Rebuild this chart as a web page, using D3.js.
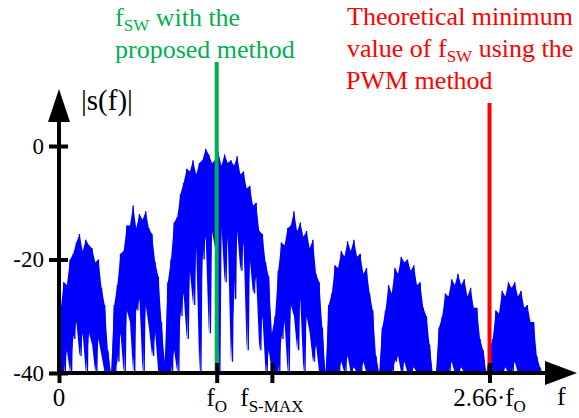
<!DOCTYPE html>
<html><head><meta charset="utf-8">
<script src="https://cdn.jsdelivr.net/npm/d3@7"></script>
<style>body{margin:0;background:#fff}svg{display:block}text{font-family:'Liberation Serif','Times New Roman',Times,serif}</style>
</head><body>
<script>
// frequency bins in units of f_O
const binStart = 0.01, binStep = 0.02;
// spectrum peaks (dB) per bin
const peakDb = [
 -29,-24,-24.5,-20,-19,-17,-15.5,-18.5,-16.5,-17.5,-18,-20.5,-20,-25,-28,-36,-40,
 -28,-24.5,-19,-18.5,-14,-14,-10.5,-14.5,-12,-13,-11.5,-14.5,-15.5,-20.5,-23,-31,-38,
 -24,-20,-13.5,-12.5,-8.5,-6.5,-4,-4.5,-2.5,-5,-3,-2.5,-0.5,-1.5,-3,-2.5,-1,-3.5,-1.5,-3,-2.5,-3.5,-1.8,-5,-4.5,-7.5,-7,-10.5,-10,-15,-15.5,-20.5,-23,-33,
 -30,-22,-17,-17.5,-14.5,-14,-11.5,-15,-13.5,-16,-15,-18,-16.5,-22.5,-24,-32,-40,
 -28,-26,-21,-21.5,-18.5,-19.5,-16.8,-18.5,-16.5,-19.5,-19,-22.5,-21.5,-26,-29,-37,-40,
 -32,-29,-24.5,-26,-21.5,-22.5,-19.5,-20.5,-20,-22,-21,-24.5,-24,-28.5,-30,-35,-40,
 -40,-32,-30,-26,-26.5,-23.5,-24.5,-22.5,-24.5,-23.5,-26.5,-25,-28.5,-28.5,-34,-36,-40,
 -36,-34,-29,-29.5,-25.5,-26.5,-24,-25,-24,-26.5,-25.5,-28.5,-28,-31,-31,-37,-39
];
// spectrum dips (dB) between peaks
const dipDb = [
 -40,-40,-36,-40,-34,-31,-37,-33,-40,-33,-35,-40,-34,-37,-40,-40,-40,
 -40,-38,-33,-40,-29,-31,-40,-29,-27,-40,-28,-32,-37,-33,-40,-40,-40,
 -40,-40,-36,-40,-30,-26,-34,-22,-28,-18,-40,-20,-16,-33,-15,-18,-40,-14,-24,-16,-38,-27,-15,-22,-17,-36,-20,-26,-23,-36,-30,-40,-36,-40,
 -40,-40,-34,-31,-40,-28,-30,-36,-27,-40,-30,-33,-38,-35,-40,-40,-40,
 -40,-40,-40,-40,-38,-40,-37,-40,-39,-40,-40,-38,-40,-40,-40,-40,-40,
 -40,-40,-40,-40,-38,-37,-40,-38,-40,-40,-39,-40,-40,-40,-40,-40,-40,
 -40,-40,-40,-40,-40,-38,-40,-40,-39,-40,-40,-40,-40,-40,-40,-40,-40,
 -40,-40,-40,-40,-40,-39,-40,-40,-38,-40,-40,-40,-40,-40,-40,-40,-40
];
const yTickValues = [0, -20, -40];
const yTickLabels = ["0", "-20", "-40"];
const xTickValues = [0, 1, 1.35, 2.73];
const xTickMain = ["0", "f", "f", "2.66·f"];
const xTickSub = ["", "O", "S-MAX", "O"];
const fswProposed = 1;
const fswPwm = 2.73;

const W = 579, H = 418;
const serif = "'Liberation Serif','Times New Roman',Times,serif";
const svg = d3.select("body").append("svg").attr("width", W).attr("height", H)
  .attr("font-family", serif);

const x = d3.scaleLinear().domain([0, 3.2]).range([59, 59 + 3.2 * 157.7]);
const y = d3.scaleLinear().domain([-40, 0]).range([373, 146]);

// spectrum: dense band between peaks and dips, plus the raw zig-zag trace
const bins = peakDb.map((v, i) => ({ f: binStart + i * binStep, hi: v, lo: dipDb[i] }));
const area = d3.area().x(d => x(d.f)).y0(d => y(d.lo)).y1(d => y(d.hi));
svg.append("path").datum(bins).attr("d", area).attr("fill", "#0000ff");

const pts = [];
bins.forEach(b => {
  pts.push([b.f, b.hi]);
  pts.push([b.f + binStep / 2, b.lo]);
});
const line = d3.line().x(d => x(d[0])).y(d => y(d[1]));
svg.append("path").datum(pts).attr("d", line)
  .attr("fill", "none").attr("stroke", "#0000ff").attr("stroke-width", 1.3)
  .attr("stroke-linejoin", "bevel");

// marker lines
svg.append("line").attr("x1", x(fswProposed)).attr("x2", x(fswProposed))
  .attr("y1", 62).attr("y2", y(-40)).attr("stroke", "#00b050").attr("stroke-width", 4);
svg.append("line").attr("x1", x(fswPwm)).attr("x2", x(fswPwm))
  .attr("y1", 103).attr("y2", y(-40)).attr("stroke", "#ff0000").attr("stroke-width", 4);

// axes lines + arrows
svg.append("line").attr("x1", 59).attr("x2", 59).attr("y1", 375).attr("y2", 118)
  .attr("stroke", "#000").attr("stroke-width", 4);
svg.append("path").attr("d", "M48,122L70,122L59,89Z").attr("fill", "#000");
svg.append("line").attr("x1", 57).attr("x2", 548).attr("y1", 373).attr("y2", 373)
  .attr("stroke", "#000").attr("stroke-width", 4);
svg.append("path").attr("d", "M545,361L545,385L577,373Z").attr("fill", "#000");

// y axis ticks
const gy = svg.append("g").attr("transform", "translate(59,0)")
  .call(d3.axisLeft(y).tickValues(yTickValues).tickFormat((d, i) => yTickLabels[i]).tickSize(10).tickPadding(5));
gy.attr("font-family", serif);
gy.select(".domain").remove();
gy.selectAll(".tick line").attr("x1", 9).attr("x2", -10).attr("stroke", "#000").attr("stroke-width", 4);
gy.selectAll(".tick text").attr("x", -15).attr("font-size", 23).attr("font-family", serif).attr("fill", "#000");

// x axis ticks
const gx = svg.append("g").attr("transform", "translate(0,373)")
  .call(d3.axisBottom(x).tickValues(xTickValues).tickFormat("").tickSize(10));
gx.select(".domain").remove();
gx.selectAll(".tick line").attr("y1", -10).attr("y2", 10).attr("stroke", "#000").attr("stroke-width", 4);

const xl = svg.selectAll("text.xlab").data(xTickValues).enter().append("text")
  .attr("class", "xlab").attr("x", d => x(d)).attr("y", 406)
  .attr("text-anchor", "middle").attr("font-size", 25).attr("fill", "#000");
xl.append("tspan").text((d, i) => xTickMain[i]);
xl.append("tspan").attr("font-size", 17).attr("dy", 6).text((d, i) => xTickSub[i]);

// axis titles
svg.append("text").attr("x", 557).attr("y", 405).attr("font-size", 26).text("f");
svg.append("text").attr("x", 81).attr("y", 110).attr("font-size", 29).text("|s(f)|");

// green annotation
const g1 = svg.append("text").attr("x", 115).attr("y", 26).attr("font-size", 26).attr("fill", "#00b050");
g1.append("tspan").text("f");
g1.append("tspan").attr("font-size", 17).attr("dy", 5).text("SW");
g1.append("tspan").attr("dy", -5).text(" with the");
svg.append("text").attr("x", 115).attr("y", 58).attr("font-size", 26).attr("fill", "#00b050").text("proposed method");

// red annotation
svg.append("text").attr("x", 347).attr("y", 25).attr("font-size", 26).attr("fill", "#ff0000").text("Theoretical minimum");
const r2 = svg.append("text").attr("x", 347).attr("y", 57).attr("font-size", 26).attr("fill", "#ff0000");
r2.append("tspan").text("value of f");
r2.append("tspan").attr("font-size", 17).attr("dy", 5).text("SW");
r2.append("tspan").attr("dy", -5).text(" using the");
svg.append("text").attr("x", 346).attr("y", 89).attr("font-size", 26).attr("fill", "#ff0000").text("PWM method");
</script>
</body></html>
